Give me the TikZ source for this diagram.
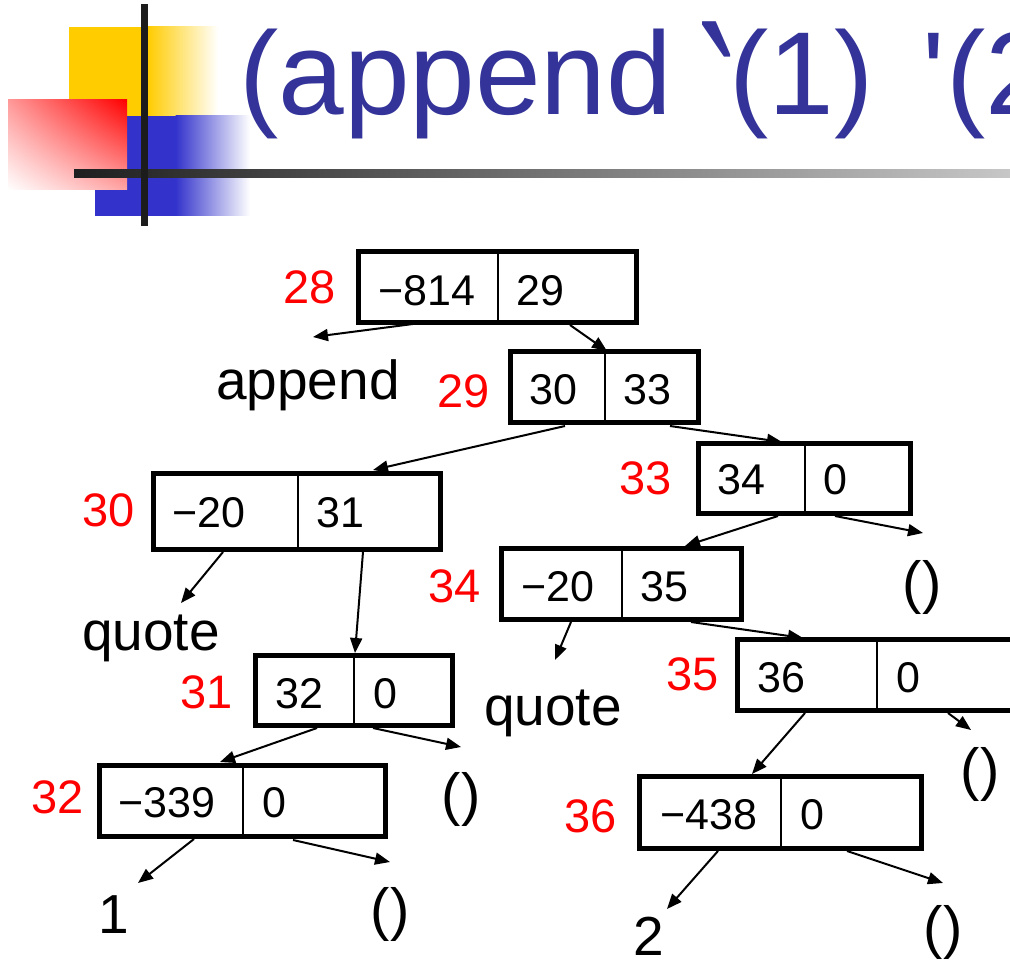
\documentclass[tikz,border=0pt]{standalone}
\usepackage{fontspec}
\setmainfont{Liberation Sans}
\newfontfamily\titlefont{Liberation Sans}[Ligatures=TeXOff]
\usetikzlibrary{arrows.meta,shadings}
\definecolor{titleblue}{HTML}{333399}
\definecolor{decoyellow}{HTML}{FFCC00}
\definecolor{decoblue}{HTML}{3333CC}
\definecolor{decodark}{HTML}{1C1C1C}
\definecolor{labred}{HTML}{FF0000}
\tikzset{
  cell/.style={draw, line width=5pt, inner sep=0pt},
  divline/.style={line width=2pt},
  num/.style={font=\fontsize{43}{43}\selectfont, anchor=base west, inner sep=0pt},
  lab/.style={text=labred, font=\fontsize{47}{47}\selectfont, anchor=base west, inner sep=0pt},
  word/.style={font=\fontsize{55}{55}\selectfont, anchor=base west, inner sep=0pt},
  nil/.style={font=\fontsize{58}{58}\selectfont, inner sep=0pt},
  ttl/.style={anchor=base west, inner sep=0pt, text=titleblue, font=\titlefont\fontsize{118}{118}\selectfont},
  ptr/.style={line width=2pt, -{Triangle[length=15pt,width=12pt]}}
}
\begin{document}
\begin{tikzpicture}[x=1pt,y=-1pt]
\useasboundingbox (0,0) rectangle (1010,965);
\clip (0,0) rectangle (1010,965);
% decoration
\fill[decoyellow] (69,27) rectangle (148,116);
\shade[left color=decoyellow, right color=white] (147.5,27) rectangle (218,116);
\fill[decoblue] (95,116) rectangle (176,216);
\shade[left color=decoblue, right color=white] (175.5,116) rectangle (250,216);
\shade[upper right=labred, lower left=white, upper left=labred!40!white, lower right=labred!35!white] (8,100) rectangle (127,190);
\shade[left color=black!88, right color=black!22] (74,170) rectangle (1010,178);
\fill[decodark] (141,4) rectangle (148,226);
% title
\node[ttl] (title1) at (239,115) {(append};
\node[ttl] (title2) at (695,196) {\makebox[22pt][l]{\scalebox{1.15}[2]{\symbol{"60}}}};
\node[ttl] (title3) at (729,115) {(1)};
\node[ttl] (title4) at (922,115) {\symbol{"27}};
\node[ttl] (title5) at (946,115) {(2))};
% boxes
\node[cell, minimum width=278pt, minimum height=71pt] (b28) at (497.5,287) {};
\node[cell, minimum width=188pt, minimum height=71pt] (b29) at (604.5,387) {};
\node[cell, minimum width=212pt, minimum height=70pt] (b33) at (804.5,478.5) {};
\node[cell, minimum width=240pt, minimum height=71pt] (b34) at (621.5,584) {};
\node[cell, minimum width=287pt, minimum height=76pt] (b30) at (297,511.5) {};
\node[cell, minimum width=197pt, minimum height=70pt] (b31) at (354,690.5) {};
\node[cell, minimum width=286pt, minimum height=71pt] (b32) at (242.5,801) {};
\node[cell, minimum width=300pt, minimum height=71pt] (b35) at (887.5,675) {};
\node[cell, minimum width=282pt, minimum height=72pt] (b36) at (780.5,812.5) {};
% dividers
\draw[divline] (498,251.5) -- (498,322.5);
\draw[divline] (605,351.5) -- (605,422.5);
\draw[divline] (805,443.5) -- (805,513.5);
\draw[divline] (622,548.5) -- (622,619.5);
\draw[divline] (298,473.5) -- (298,549.5);
\draw[divline] (354,655.5) -- (354,725.5);
\draw[divline] (243,765.5) -- (243,836.5);
\draw[divline] (877,639.5) -- (877,710.5);
\draw[divline] (781,776.5) -- (781,848.5);
% cell contents
\node[num] (c28a) at (378,306) {−814};
\node[num] (c28b) at (516,306) {29};
\node[num] (c29a) at (529,405) {30};
\node[num] (c29b) at (623,405) {33};
\node[num] (c33a) at (717,495) {34};
\node[num] (c33b) at (823,495) {0};
\node[num] (c34a) at (521,601) {−20};
\node[num] (c34b) at (640,601) {35};
\node[num] (c30a) at (172,527) {−20};
\node[num] (c30b) at (316,527) {31};
\node[num] (c31a) at (275,708) {32};
\node[num] (c31b) at (373,708) {0};
\node[num] (c32a) at (118,817) {−339};
\node[num] (c32b) at (262,817) {0};
\node[num] (c35a) at (757,692) {36};
\node[num] (c35b) at (896,692) {0};
\node[num] (c36a) at (660,829) {−438};
\node[num] (c36b) at (800,829) {0};
% address labels
\node[lab] (l28) at (283,304) {28};
\node[lab] (l29) at (437,408) {29};
\node[lab] (l33) at (619,495) {33};
\node[lab] (l34) at (428,602) {34};
\node[lab] (l30) at (82,526) {30};
\node[lab] (l31) at (180,708) {31};
\node[lab] (l32) at (31,813) {32};
\node[lab] (l35) at (666,690) {35};
\node[lab] (l36) at (564,832) {36};
% atoms
\node[word] (append) at (216,400) {append};
\node[word] (quote1) at (82,650) {quote};
\node[word] (quote2) at (484,725) {quote};
\node[word, text depth=0pt] (one) at (98,933) {1};
\node[word, text depth=0pt] (two) at (633,955) {2};
\node[nil] (nil33) at (922,587) {()};
\node[nil] (nil31) at (461,799) {()};
\node[nil] (nil32) at (390,914) {()};
\node[nil] (nil35) at (980,774) {()};
\node[nil] (nil36) at (943,932) {()};
% connector ends
\coordinate (s1) at (413,324); \coordinate (t1) at (313,337);
\coordinate (s2) at (570,325); \coordinate (t2) at (607,351);
\coordinate (s3) at (565,426); \coordinate (t3) at (373,470);
\coordinate (s4) at (670,426); \coordinate (t4) at (782,442);
\coordinate (s5) at (778,516); \coordinate (t5) at (685,546);
\coordinate (s6) at (835,516); \coordinate (t6) at (923,533);
\coordinate (s7) at (223,552); \coordinate (t7) at (181,603);
\coordinate (s8) at (363,552); \coordinate (t8) at (355,653);
\coordinate (s9) at (571,622); \coordinate (t9) at (555,660);
\coordinate (s10) at (691,622); \coordinate (t10) at (803,638);
\coordinate (s11) at (317,728); \coordinate (t11) at (220,762);
\coordinate (s12) at (373,728); \coordinate (t12) at (461,747);
\coordinate (s13) at (194,839); \coordinate (t13) at (138,883);
\coordinate (s14) at (293,840); \coordinate (t14) at (390,862);
\coordinate (s15) at (805,713); \coordinate (t15) at (752,774);
\coordinate (s16) at (948,713); \coordinate (t16) at (971,730);
\coordinate (s17) at (718,851); \coordinate (t17) at (667,909);
\coordinate (s18) at (847,851); \coordinate (t18) at (943,883);
\foreach \i in {1,...,18} { \draw[ptr] (s\i) -- (t\i); }
\end{tikzpicture}
\end{document}
